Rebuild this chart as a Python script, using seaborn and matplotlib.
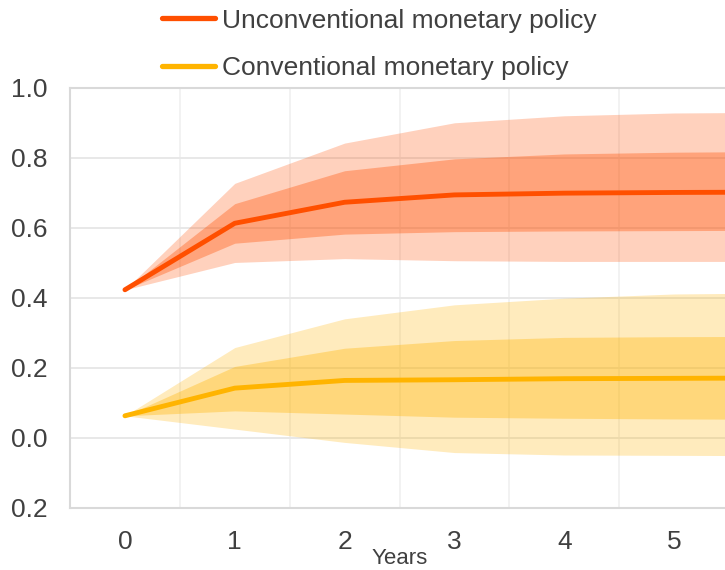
import numpy as np
import pandas as pd
import matplotlib
matplotlib.use("Agg")
import matplotlib.pyplot as plt
import seaborn as sns

# data
years = [0, 1, 2, 3, 4, 5, 6]

unconv_mid = [0.423, 0.613, 0.673, 0.694, 0.699, 0.701, 0.702]
unconv_hi68 = [0.423, 0.669, 0.763, 0.797, 0.811, 0.816, 0.818]
unconv_lo68 = [0.423, 0.556, 0.582, 0.589, 0.591, 0.592, 0.593]
unconv_hi90 = [0.423, 0.727, 0.842, 0.900, 0.920, 0.928, 0.930]
unconv_lo90 = [0.423, 0.501, 0.512, 0.506, 0.504, 0.504, 0.504]

conv_mid = [0.063, 0.142, 0.164, 0.166, 0.169, 0.170, 0.171]
conv_hi68 = [0.063, 0.204, 0.256, 0.278, 0.287, 0.289, 0.290]
conv_lo68 = [0.063, 0.077, 0.068, 0.059, 0.056, 0.054, 0.053]
conv_hi90 = [0.063, 0.258, 0.340, 0.380, 0.399, 0.411, 0.414]
conv_lo90 = [0.063, 0.025, -0.013, -0.042, -0.049, -0.050, -0.051]

series_names = ["Unconventional monetary policy", "Conventional monetary policy"]
series_colors = ["#FF4F00", "#FFB400"]

y_ticks = [-0.2, 0.0, 0.2, 0.4, 0.6, 0.8, 1.0]
y_tick_labels = ["0.2", "0.0", "0.2", "0.4", "0.6", "0.8", "1.0"]

df = pd.DataFrame({
    "year": years * 2,
    "value": unconv_mid + conv_mid,
    "policy": [series_names[0]] * len(years) + [series_names[1]] * len(years),
})

sns.set_theme(style="whitegrid")
plt.rcParams["font.family"] = ["Liberation Sans", "DejaVu Sans"]

fig = plt.figure(figsize=(7.25, 5.7), dpi=100)
ax = fig.add_axes([0.0966, 0.109, 0.9089, 0.737])

grey_text = "#404040"

# confidence bands
bands = [
    (unconv_lo90, unconv_hi90, unconv_lo68, unconv_hi68, series_colors[0]),
    (conv_lo90, conv_hi90, conv_lo68, conv_hi68, series_colors[1]),
]
for lo90, hi90, lo68, hi68, col in bands:
    ax.fill_between(years, lo90, hi90, color=col, alpha=0.26, linewidth=0, zorder=2)
    ax.fill_between(years, lo68, hi68, color=col, alpha=0.35, linewidth=0, zorder=2)

sns.lineplot(data=df, x="year", y="value", hue="policy", palette=series_colors,
             linewidth=3.5, ax=ax, zorder=3, legend=False)
for line in ax.lines:
    line.set_solid_capstyle("round")

ax.set_xlim(-0.5, 5.5)
ax.set_ylim(-0.2, 1.0)
ax.set_xticks(years[:6])
ax.set_xticks(np.arange(-0.5, 5.6, 1.0), minor=True)
ax.set_yticks(y_ticks)
ax.set_yticklabels(y_tick_labels)

ax.grid(False, axis="x", which="major")
ax.grid(True, axis="x", which="minor", color="#F0F0F0", linewidth=1.2)
ax.grid(True, axis="y", which="major", color="#E8E8E8", linewidth=1.4)
ax.set_axisbelow(True)

ax.tick_params(axis="both", which="both", length=0, labelsize=19,
               labelcolor=grey_text)
ax.tick_params(axis="y", pad=16)
ax.tick_params(axis="x", pad=16)

for side in ["left", "bottom", "top"]:
    ax.spines[side].set_visible(True)
    ax.spines[side].set_color("#D9D9D9")
    ax.spines[side].set_linewidth(1.5)
ax.spines["right"].set_visible(False)

ax.set_ylabel("")
ax.set_xlabel("Years", fontsize=16, color=grey_text)
ax.xaxis.set_label_coords(0.5, -0.095)

handles = [plt.Line2D([0], [0], color=c, linewidth=3.8, solid_capstyle="round")
           for c in series_colors]
fig.legend(handles, series_names, loc="upper left", bbox_to_anchor=(0.224, 0.985),
           frameon=False, fontsize=19, handlelength=2.0, handletextpad=0.25,
           labelspacing=0.88, borderpad=0.0, borderaxespad=0.0,
           labelcolor=grey_text)

fig.savefig("out.png", dpi=100)
